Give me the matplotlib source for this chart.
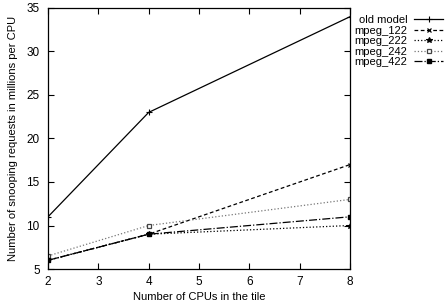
import matplotlib
matplotlib.use("Agg")
import matplotlib.pyplot as plt

plt.rcParams['font.family'] = ['Liberation Sans', 'DejaVu Sans']

cpus = [2, 4, 8]
old_model = [11, 23, 34]
mpeg_122 = [6, 9, 17]
mpeg_222 = [6, 9, 10]
mpeg_242 = [6.5, 10, 13]
mpeg_422 = [6, 9, 11]

fig = plt.figure(figsize=(4.47, 3.07), dpi=100)
ax = fig.add_axes([48/447, 1-269/307, (350-48)/447, (269-8)/307])

ax.plot(cpus, old_model, '-', color='black', lw=0.9, marker='+', ms=4, mew=0.8, label='old model')
ax.plot(cpus, mpeg_122, '--', color='black', lw=0.9, dashes=(3, 2), marker='x', ms=3.5, mew=0.9, label='mpeg_122')
ax.plot(cpus, mpeg_222, ':', color='black', lw=0.9, marker='*', ms=4, mew=0.8, label='mpeg_222')
ax.plot(cpus, mpeg_242, ':', color='#777777', lw=0.9, marker='s', ms=3.5, mfc='white', mec='#444444', mew=0.9, label='mpeg_242')
ax.plot(cpus, mpeg_422, '-.', color='black', lw=0.9, marker='s', ms=3.5, mfc='black', mec='black', label='mpeg_422')

ax.set_xlim(2, 8)
ax.set_ylim(5, 35)
ax.set_xticks(range(2, 9))
ax.set_yticks(range(5, 36, 5))
ax.tick_params(direction='in', top=True, right=True, labelsize=8.5, length=4, width=0.8)
ax.tick_params(axis='x', pad=5)
ax.tick_params(axis='y', pad=6)
for s in ax.spines.values():
    s.set_linewidth(0.9)
ax.set_xlabel('Number of CPUs in the tile', fontsize=8, labelpad=3)
ax.set_ylabel('Number of snooping requests in millions per CPU', fontsize=8, labelpad=6)

leg = ax.legend(loc='upper left', bbox_to_anchor=(1.0, 0.99), markerfirst=False, frameon=False,
                fontsize=8, handlelength=2.6, handletextpad=0.6, labelspacing=0.05,
                borderaxespad=0.2, borderpad=0.2)

fig.savefig('out.png', dpi=100)
